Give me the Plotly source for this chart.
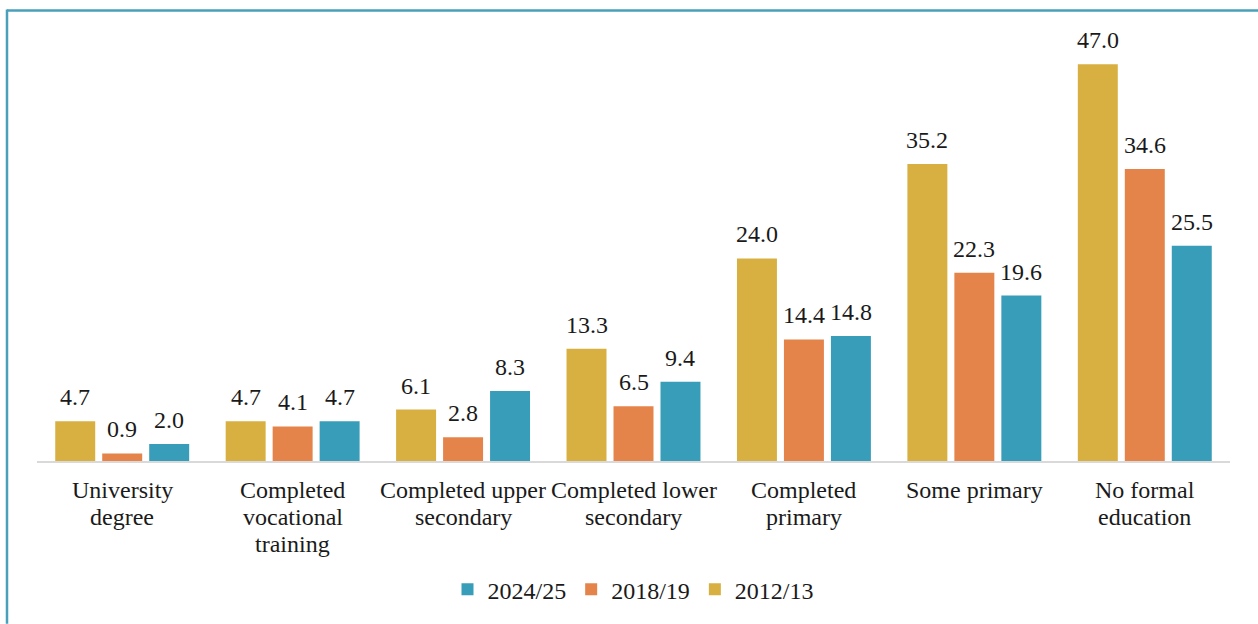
import plotly.graph_objects as go

categories = ["University<br>degree", "Completed<br>vocational<br>training",
              "Completed upper<br>secondary", "Completed lower<br>secondary",
              "Completed<br>primary", "Some primary", "No formal<br>education"]
series_names = ["2012/13", "2018/19", "2024/25"]
v2012 = [4.7, 4.7, 6.1, 13.3, 24.0, 35.2, 47.0]
v2018 = [0.9, 4.1, 2.8, 6.5, 14.4, 22.3, 34.6]
v2024 = [2.0, 4.7, 8.3, 9.4, 14.8, 19.6, 25.5]
colors = ["#D8B041", "#E4844A", "#389DB8"]

FONT = "Times New Roman"
FS = 24
TXT = "#1a1a1a"

fig = go.Figure()
for name, vals, col in zip(series_names, [v2012, v2018, v2024], colors):
    fig.add_trace(go.Bar(
        x=categories, y=vals, name=name, marker=dict(color=col, line=dict(width=0)),
    ))

L, R, T, B = 37, 28, 38.5, 163
W, H = 1258, 624
fig.update_layout(
    width=W, height=H,
    margin=dict(l=L, r=R, t=T, b=B, pad=0, autoexpand=False),
    paper_bgcolor="white", plot_bgcolor="white",
    barmode="group", bargap=0.173, bargroupgap=0.149,
    font=dict(family=FONT, size=FS, color=TXT),
    showlegend=True,
    legend=dict(orientation="h", x=0.5, xanchor="center", y=-0.305, yanchor="middle",
                traceorder="reversed", font=dict(family=FONT, size=FS, color=TXT),
                itemwidth=30, itemsizing="constant"),
    xaxis=dict(showline=True, linecolor="#D9D9D9", linewidth=2, ticks="",
               showgrid=False, showticklabels=False, automargin=False),
    yaxis=dict(range=[0, 50], visible=False, showgrid=False),
)

plot_w = W - L - R
plot_h = H - T - B
def px(x):
    return (x - L) / plot_w
def py(y):
    return (H - B - y) / plot_h

# category labels (line spacing like the reference)
for cat in categories:
    for k, line in enumerate(cat.split("<br>")):
        fig.add_annotation(x=cat, xref="x", y=py(490 + 27 * k), yref="paper",
                           text=line, showarrow=False, yanchor="middle",
                           font=dict(family=FONT, size=FS, color=TXT))

# value labels above bars
slot = plot_w / len(categories) * (1 - 0.173) / 3
for i, vals in enumerate([v2012, v2018, v2024]):
    for cat, v in zip(categories, vals):
        fig.add_annotation(x=cat, xref="x", y=v, yref="y", text=f"{v:.1f}",
                           showarrow=False, yanchor="bottom", xshift=(i - 1) * slot,
                           yshift=9, font=dict(family=FONT, size=FS, color=TXT))

border = "#4A9FBA"
fig.add_shape(type="line", xref="paper", yref="paper", x0=px(7), x1=px(W), y0=py(10), y1=py(10),
              line=dict(color=border, width=2.5))
fig.add_shape(type="line", xref="paper", yref="paper", x0=px(7), x1=px(7), y0=py(9), y1=py(H),
              line=dict(color=border, width=2.5))

fig.write_html("out.html", config={"displayModeBar": False},
               post_script="document.body.style.margin='0';document.body.style.overflow='hidden';")
